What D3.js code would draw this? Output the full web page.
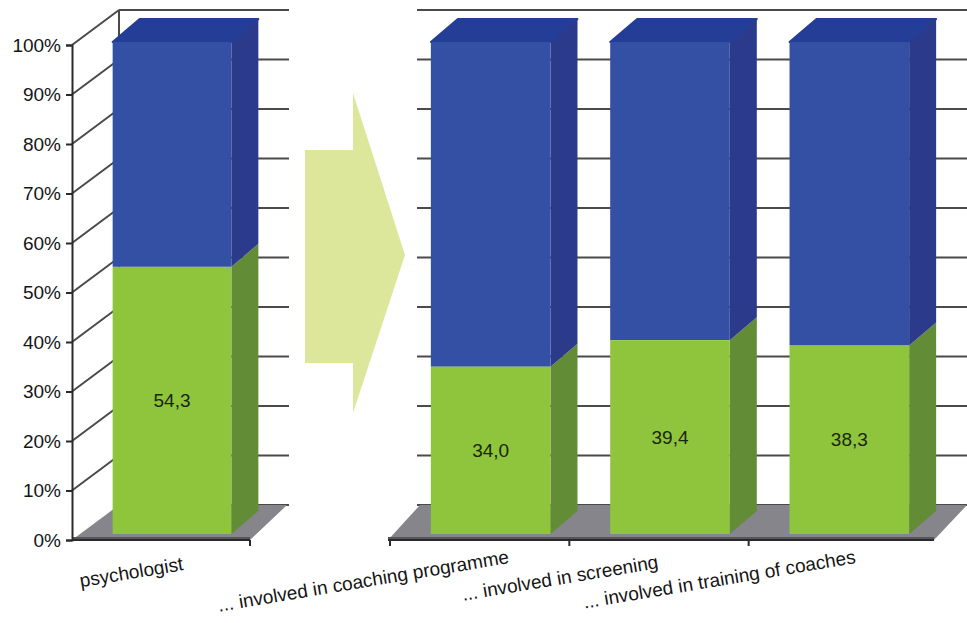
<!DOCTYPE html>
<html><head><meta charset="utf-8">
<script src="https://cdn.jsdelivr.net/npm/d3@7"></script>
<style>html,body{margin:0;padding:0;background:#fff;} svg{display:block;font-family:"Liberation Sans",Arial,sans-serif;}</style>
</head><body><svg id="chart" width="967" height="623"></svg>
<script>
// ---------- data ----------
const categories = ["psychologist", "... involved in coaching programme", "... involved in screening", "... involved in training of coaches"];
const greenValues = [54.3, 34.0, 39.4, 38.3];
const blueValues = [45.7, 66.0, 60.6, 61.7];
const valueLabels = ["54,3", "34,0", "39,4", "38,3"];
const yTickValues = [0, 10, 20, 30, 40, 50, 60, 70, 80, 90, 100];
const yTickLabels = ["0%", "10%", "20%", "30%", "40%", "50%", "60%", "70%", "80%", "90%", "100%"];
const panelGroups = [[categories[0]], categories.slice(1)];

// ---------- layout / style ----------
const labelDx = [23, 30, 0, 18];
const labelY = [570, 563, 568, 563];
const C = {
  blueFront: "#3450a5", blueTop: "#243e97", blueSide: "#2b3a8a",
  greenFront: "#8ec53d", greenSide: "#638c37",
  floor: "#85858b", floorEdge: "#56565a", grid: "#4a4a4a", axis: "#2a2a2a",
  arrow: "#dde79b", text: "#151515", value: "#1a260c"
};
const svg = d3.select("#chart");
const yFront = d3.scaleLinear().domain([0, 100]).range([540, 45]);
const yBar = d3.scaleLinear().domain([0, 100]).range([534, 42]);
const wallDy = -35;
const barShift = 11, barFrac = 0.667;
const bd = {dx: 27, dy: -23};
const panels = [
  {cats: panelGroups[0], range: [72, 250], ext: [0, 0], depthL: 47, depthR: 37, gridX: [119, 289], yAxis: true},
  {cats: panelGroups[1], range: [390, 928], ext: [-2, 6], depthL: 32, depthR: 33, gridX: [417, 967], yAxis: false}
];

// arrow (decoration)
svg.append("polygon")
  .attr("points", [[305,150],[353,150],[353,93],[405,255],[353,413],[353,363],[305,363]].map(p => p.join(",")).join(" "))
  .attr("fill", C.arrow);

panels.forEach(p => {
  const x = d3.scaleBand().domain(p.cats).range(p.range).paddingInner(0).paddingOuter(0);
  const g = svg.append("g");
  const y0 = yFront(0);
  // back wall gridlines
  g.selectAll(".grid").data(yTickValues).join("line")
    .attr("x1", p.gridX[0]).attr("x2", p.gridX[1])
    .attr("y1", d => yFront(d) + wallDy).attr("y2", d => yFront(d) + wallDy)
    .attr("stroke", C.grid).attr("stroke-width", 2);
  if (p.yAxis) {
    // side wall diagonals
    g.selectAll(".diag").data(yTickValues.filter(d => d > 0)).join("line")
      .attr("x1", p.range[0]).attr("y1", d => yFront(d))
      .attr("x2", p.range[0] + p.depthL).attr("y2", d => yFront(d) + wallDy)
      .attr("stroke", C.grid).attr("stroke-width", 2);
    g.append("line")
      .attr("x1", p.range[0] + p.depthL).attr("x2", p.range[0] + p.depthL)
      .attr("y1", yFront(100) + wallDy).attr("y2", y0 + wallDy)
      .attr("stroke", C.grid).attr("stroke-width", 2);
  }
  // floor
  const fx0 = p.range[0] + p.ext[0], fx1 = p.range[1] + p.ext[1];
  g.append("polygon")
    .attr("points", [[fx0, y0], [fx1, y0], [fx1 + p.depthR, y0 + wallDy], [fx0 + p.depthL, y0 + wallDy]].map(q => q.join(",")).join(" "))
    .attr("fill", C.floor);
  g.append("line").attr("x1", fx0).attr("x2", fx1).attr("y1", y0 - 1.5).attr("y2", y0 - 1.5)
    .attr("stroke", C.floorEdge).attr("stroke-width", 3);

  // bars
  p.cats.forEach(cat => {
    const i = categories.indexOf(cat);
    const bw = x.bandwidth() * barFrac;
    const bx = x(cat) + (x.bandwidth() - bw) / 2 + barShift;
    const gv = greenValues[i], top = gv + blueValues[i];
    const bg = g.append("g");
    const poly = pts => pts.map(q => q.join(",")).join(" ");
    // side faces
    bg.append("polygon").attr("fill", C.greenSide)
      .attr("points", poly([[bx + bw, yBar(0)], [bx + bw + bd.dx, yBar(0) + bd.dy], [bx + bw + bd.dx, yBar(gv) + bd.dy], [bx + bw, yBar(gv)]]));
    bg.append("polygon").attr("fill", C.blueSide)
      .attr("points", poly([[bx + bw, yBar(gv)], [bx + bw + bd.dx, yBar(gv) + bd.dy], [bx + bw + bd.dx, yBar(top) + bd.dy], [bx + bw, yBar(top)]]));
    // top face
    bg.append("polygon").attr("fill", C.blueTop).attr("stroke", C.blueTop).attr("stroke-linejoin", "round").attr("stroke-width", 2)
      .attr("points", poly([[bx, yBar(top)], [bx + bd.dx, yBar(top) + bd.dy], [bx + bw + bd.dx, yBar(top) + bd.dy], [bx + bw, yBar(top)]]));
    // front faces
    bg.append("rect").attr("x", bx).attr("width", bw)
      .attr("y", yBar(top)).attr("height", yBar(gv) - yBar(top)).attr("fill", C.blueFront);
    bg.append("rect").attr("x", bx).attr("width", bw)
      .attr("y", yBar(gv)).attr("height", yBar(0) - yBar(gv)).attr("fill", C.greenFront);
    // value label
    bg.append("text").attr("x", bx + bw / 2).attr("y", (yBar(gv) + yBar(0)) / 2)
      .attr("dy", "0.35em").attr("text-anchor", "middle")
      .attr("font-size", 19).attr("fill", C.value).text(valueLabels[i]);
    // category label
    const lx = x(cat) + x.bandwidth() / 2 + labelDx[i];
    g.append("text").attr("text-anchor", "end").attr("font-size", 19).attr("fill", C.text)
      .attr("transform", `translate(${lx},${labelY[i]}) rotate(-9.5)`).text(cat);
  });

  // bottom axis
  g.append("line").attr("x1", fx0).attr("x2", fx1).attr("y1", y0).attr("y2", y0)
    .attr("stroke", C.axis).attr("stroke-width", 2);
  const bounds = p.yAxis ? [p.range[1]] : p.cats.map(c => x(c));
  g.selectAll(".xt").data(bounds).join("line")
    .attr("x1", d => d).attr("x2", d => d).attr("y1", y0).attr("y2", y0 + 6)
    .attr("stroke", C.axis).attr("stroke-width", 2);

  if (p.yAxis) {
    const ax = g.append("g").attr("transform", `translate(${p.range[0]},0)`)
      .call(d3.axisLeft(yFront).tickValues(yTickValues).tickFormat((d, k) => yTickLabels[k]).tickSize(6).tickPadding(5));
    ax.select(".domain").attr("stroke", C.axis).attr("stroke-width", 2);
    ax.selectAll(".tick line").attr("stroke", C.axis).attr("stroke-width", 2);
    ax.selectAll(".tick text").attr("font-size", 19).attr("fill", C.text).attr("font-family", "Liberation Sans, Arial, sans-serif");
  }
});
</script></body></html>
